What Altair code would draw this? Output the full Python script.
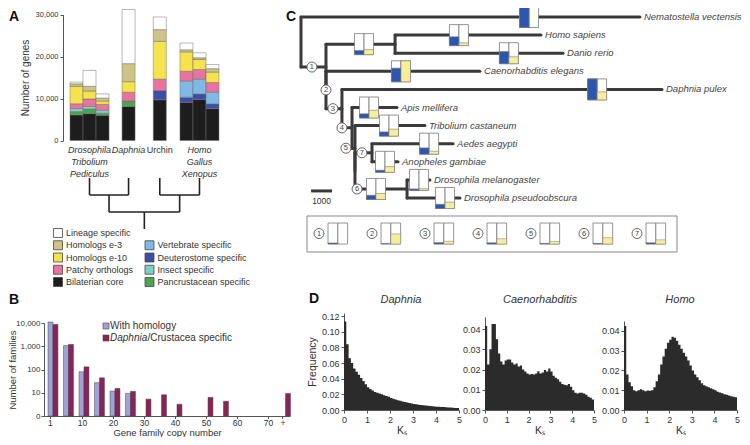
import altair as alt
import pandas as pd

OFF = 8              # page margin: chart pixel = page pixel - OFF
FONT = "Liberation Sans"
INK = "#333333"
W, H = 734, 429

# ---------------- Panel A : gene content per genome ----------------
A_species = ["Drosophila", "Tribolium", "Pediculus", "Daphnia", "Urchin", "Homo", "Gallus", "Xenopus"]
A_group = [0, 0, 0, 1, 2, 3, 3, 3]
A_slot = [0, 1, 2, 4, 6.4, 8.45, 9.45, 10.45]
A_italic = [True, True, True, True, False, True, True, True]

A_categories = ["Bilaterian core", "Pancrustacean specific", "Insect specific",
                "Deuterostome specific", "Vertebrate specific", "Patchy orthologs",
                "Homologs e-10", "Homologs e-3", "Lineage specific"]
A_colors = ["#1d1d1d", "#4ba64f", "#7fd0c6", "#3b4fa6", "#80b8e6", "#e9739f",
            "#f6e24c", "#cdc488", "#ffffff"]
A_bilaterian_core = [6100, 6400, 6000, 8100, 9700, 9100, 9800, 7600]
A_pancrustacean = [800, 1100, 500, 1300, 0, 0, 0, 0]
A_insect = [700, 600, 700, 0, 0, 0, 0, 0]
A_deuterostome = [0, 0, 0, 0, 2200, 1200, 1300, 1150]
A_vertebrate = [0, 0, 0, 0, 0, 3900, 3500, 2750]
A_patchy = [1150, 1800, 1400, 2100, 2700, 2300, 2300, 2300]
A_homologs_e10 = [4150, 1900, 800, 2500, 9000, 4600, 2400, 2500]
A_homologs_e3 = [600, 1100, 700, 4300, 2800, 500, 400, 800]
A_lineage = [400, 3800, 1000, 12900, 3000, 1600, 1200, 1000]
A_series = [A_bilaterian_core, A_pancrustacean, A_insect, A_deuterostome, A_vertebrate,
            A_patchy, A_homologs_e10, A_homologs_e3, A_lineage]

A_legend_labels = ["Lineage specific", "Homologs e-3", "Homologs e-10", "Patchy orthologs",
                   "Bilaterian core", "Vertebrate specific", "Deuterostome specific",
                   "Insect specific", "Pancrustacean specific"]
A_legend_col = [0, 0, 0, 0, 0, 1, 1, 1, 1]
A_legend_row = [0, 1, 2, 3, 4, 1, 2, 3, 4]

A_tree_pairs = [(0, 1), (2, 3)]   # ((insects, Daphnia), (urchin, vertebrates))

# ---------------- Panel B : gene family sizes ----------------
B_bins = list(range(16))
B_with_homology = [11000, 1070, 80, 27, 11.8, 9.4, None, None, None, None, None, None, None, None, None, None]
B_crustacea = [8700, 1200, 130, 44, 15.3, 11.5, 5.3, 8.2, 3.2, None, 6.3, 4.3, None, None, None, 9.3]
B_tick_pos = [-0.2, 1.87, 3.87, 5.87, 7.87, 9.87, 11.87, 13.87, 14.8]
B_tick_labels = ["1", "10", "20", "30", "40", "50", "60", "70", "+"]

# ---------------- Panel C : phylogeny ----------------
C_nodes = ["root", "Nematostella vectensis", "Bilateria", "Deuterostomia", "Homo sapiens",
           "Danio rerio", "Ecdysozoa", "Caenorhabditis elegans", "Arthropoda", "Daphnia pulex",
           "Insecta", "Apis mellifera", "Holometabola", "Tribolium castaneum", "Diptera",
           "Culicidae", "Aedes aegypti", "Anopheles gambiae", "Drosophilidae",
           "Drosophila melanogaster", "Drosophila pseudoobscura"]
C_parent = [None, "root", "root", "Bilateria", "Deuterostomia", "Deuterostomia", "Bilateria",
            "Ecdysozoa", "Ecdysozoa", "Arthropoda", "Arthropoda", "Insecta", "Insecta",
            "Holometabola", "Holometabola", "Diptera", "Culicidae", "Culicidae", "Diptera",
            "Drosophilidae", "Drosophilidae"]
C_depth = [0, 16.14, 1.19, 4.48, 11.43, 12.48, 1.19, 8.52, 1.95, 17.19, 2.43, 4.57, 2.57,
           5.9, 2.57, 3.38, 7.24, 4.62, 5.05, 6.14, 7.57]   # thousands of changes

C_glyph_node = ["Nematostella vectensis", "Deuterostomia", "Homo sapiens", "Danio rerio",
                "Caenorhabditis elegans", "Daphnia pulex", "Apis mellifera", "Tribolium castaneum",
                "Aedes aegypti", "Anopheles gambiae", "Drosophilidae", "Drosophila melanogaster",
                "Drosophila pseudoobscura"]
C_glyph_pos = [10.86, 3.0, 7.52, 9.9, 4.76, 14.1, 3.24, 4.19, 6.1, 4.0, 3.57, 5.62, 6.86]
C_glyph_blue = [1.0, 0.2, 0.42, 0.58, 0.65, 1.0, 0.2, 0.2, 0.3, 0.1, 0.2, 0.07, 0.2]
C_glyph_yellow = [0.0, 0.24, 0.13, 0.33, 1.0, 0.38, 0.37, 0.33, 0.14, 0.27, 0.28, 0.08, 0.3]

C_circle_num = ["1", "2", "3", "4", "5", "6", "7"]
C_circle_node = ["Bilateria", "Ecdysozoa", "Arthropoda", "Insecta", "Holometabola",
                 "Drosophilidae", "Culicidae"]
C_circle_pos = [0.52, 1.19, 1.52, 1.95, 2.14, 2.67, 2.9]

C_scalebar = [0.48, 1.48]   # 1000 changes
C_legend_blue = [0.05, 0.02, 0.07, 0.06, 0.03, 0.03, 0.06]
C_legend_yellow = [0.0, 0.48, 0.13, 0.25, 0.12, 0.3, 0.2]

# ---------------- Panel D : Ks distributions ----------------
D_daphnia = [0.113, 0.084, 0.066, 0.060, 0.053, 0.049, 0.045, 0.041, 0.037, 0.033,
             0.029, 0.027, 0.025, 0.023, 0.022, 0.021, 0.020, 0.019, 0.018, 0.017,
             0.0155, 0.0145, 0.0135, 0.0125, 0.0117, 0.0110, 0.0102, 0.0095, 0.0089, 0.0083,
             0.0077, 0.0072, 0.0068, 0.0064, 0.0060, 0.0056, 0.0053, 0.0050, 0.0047, 0.0045,
             0.0043, 0.0041, 0.0039, 0.0037, 0.0035, 0.0033, 0.0031, 0.0029, 0.0027, 0.0025]
D_caeno = [0.0415, 0.0225, 0.030, 0.0425, 0.0425, 0.035, 0.028, 0.024, 0.0225, 0.0245,
           0.025, 0.025, 0.0235, 0.0225, 0.023, 0.0215, 0.022, 0.020, 0.019, 0.018,
           0.0175, 0.0178, 0.0175, 0.018, 0.0192, 0.018, 0.0185, 0.0198, 0.019, 0.0205,
           0.019, 0.017, 0.016, 0.0152, 0.014, 0.0128, 0.0125, 0.0122, 0.0128, 0.0115,
           0.0098, 0.0085, 0.0082, 0.0085, 0.0085, 0.0082, 0.0075, 0.0065, 0.006, 0.0052]
D_homo = [0.0425, 0.018, 0.014, 0.012, 0.010, 0.0095, 0.010, 0.0105, 0.010, 0.0095,
          0.0098, 0.0097, 0.010, 0.0115, 0.0145, 0.018, 0.023, 0.027, 0.031, 0.034,
          0.0355, 0.037, 0.0365, 0.035, 0.033, 0.031, 0.029, 0.027, 0.025, 0.0225,
          0.020, 0.018, 0.0165, 0.015, 0.0135, 0.0125, 0.012, 0.0115, 0.011, 0.0105,
          0.010, 0.0092, 0.0088, 0.0085, 0.008, 0.0077, 0.0073, 0.007, 0.0067, 0.0065]
D_titles = ["Daphnia", "Caenorhabditis", "Homo"]

# =====================================================================
ONE = pd.DataFrame({"k": [0]})


def note(txt, x, y, size=10, style="normal", weight="normal", align="left", angle=0, color=INK):
    kw = dict(text=txt, fontSize=size, fontStyle=style, fontWeight=weight, align=align,
              baseline="middle", color=color, font=FONT)
    if angle:
        kw["angle"] = angle
    return alt.Chart(ONE).mark_text(**kw).encode(x=alt.value(x - OFF), y=alt.value(y - OFF))


def ax(orient, off_px, **kw):
    base = dict(orient=orient, offset=off_px, tickSize=3, labelPadding=2, domainWidth=1,
                tickWidth=1, labelFont=FONT, titleFont=FONT)
    base.update(kw)
    return alt.Axis(**base)


# ---- A bars ----
cat_color = dict(zip(A_categories, A_colors))
rows = []
for i, sp in enumerate(A_species):
    base = 0
    for cat, vals in zip(A_categories, A_series):
        v = vals[i]
        if v > 0:
            rows.append(dict(species=sp, cat=cat, color=cat_color[cat], x0=A_slot[i] - 0.5,
                             x1=A_slot[i] + 0.5, y0=base, y1=base + v))
        base += v
dfA = pd.DataFrame(rows)
xA = alt.Scale(domain=[-0.5, 10.95], range=[70 - OFF, 219 - OFF], nice=False, zero=False)
yA = alt.Scale(domain=[0, 30000], range=[140.5 - OFF, 14.5 - OFF], nice=False)
a_bars = alt.Chart(dfA).mark_rect(stroke="#707070", strokeWidth=0.5).encode(
    x=alt.X("x0:Q", scale=xA, axis=None), x2="x1:Q",
    y=alt.Y("y0:Q", scale=yA,
            axis=ax("left", -(63 - OFF), values=[0, 10000, 20000, 30000], format=",d",
                    title="Number of genes", labelFontSize=7.5, titleFontSize=10,
                    titlePadding=5)),
    y2="y1:Q",
    fill=alt.Fill("color:N", scale=None))

# ---- A species labels ----
centers = {}
for g in sorted(set(A_group)):
    s = [A_slot[i] for i in range(len(A_slot)) if A_group[i] == g]
    centers[g] = sum(s) / len(s)
lab_rows, seen = [], {}
for i, sp in enumerate(A_species):
    r = seen.get(A_group[i], 0)
    seen[A_group[i]] = r + 1
    lab_rows.append(dict(name=sp, x=centers[A_group[i]], row=r, it=A_italic[i]))
dfAl = pd.DataFrame(lab_rows)
yAl = alt.Scale(domain=[0, 2], range=[150 - OFF, 174 - OFF])
a_lab_base = alt.Chart(dfAl).encode(
    x=alt.X("x:Q", scale=xA, axis=None), y=alt.Y("row:Q", scale=yAl, axis=None), text="name:N")
a_labels = alt.layer(
    a_lab_base.transform_filter("datum.it").mark_text(fontSize=9, fontStyle="italic", color=INK, font=FONT),
    a_lab_base.transform_filter("!datum.it").mark_text(fontSize=9, color=INK, font=FONT))

# ---- A dendrogram ----
segs = []
mids = []
for a, b in A_tree_pairs:
    ca, cb = centers[a], centers[b]
    segs += [dict(x=ca, x2=ca, y=0, y2=1), dict(x=cb, x2=cb, y=0, y2=1), dict(x=ca, x2=cb, y=1, y2=1)]
    m = (ca + cb) / 2
    mids.append(m)
    segs.append(dict(x=m, x2=m, y=1, y2=2))
segs.append(dict(x=mids[0], x2=mids[1], y=2, y2=2))
r = sum(mids) / 2
segs.append(dict(x=r, x2=r, y=2, y2=3))
yAt = alt.Scale(domain=[0, 3], range=[178 - OFF, 229 - OFF])
a_tree = alt.Chart(pd.DataFrame(segs)).mark_rule(strokeWidth=1.6, color="#222222").encode(
    x=alt.X("x:Q", scale=xA, axis=None), x2="x2:Q",
    y=alt.Y("y:Q", scale=yAt, axis=None), y2="y2:Q")

# ---- A legend ----
dfLeg = pd.DataFrame(dict(label=A_legend_labels, col=A_legend_col, row=A_legend_row,
                          color=[cat_color[c] for c in A_legend_labels]))
xL = alt.Scale(domain=[0, 1], range=[58 - OFF, 149.5 - OFF])
yL = alt.Scale(domain=[0, 4], range=[233 - OFF, 282 - OFF])
leg_base = alt.Chart(dfLeg).encode(x=alt.X("col:Q", scale=xL, axis=None),
                                   y=alt.Y("row:Q", scale=yL, axis=None))
a_legend = alt.layer(
    leg_base.mark_square(size=80, stroke="#444444", strokeWidth=0.8, opacity=1).encode(
        fill=alt.Fill("color:N", scale=None)),
    leg_base.mark_text(align="left", dx=8, fontSize=9, color=INK, font=FONT).encode(text="label:N"))

# ---- B bars ----
rowsB = []
for i in B_bins:
    for side, (series, vals, col) in enumerate([("With homology", B_with_homology, "#a0a2da"),
                                                 ("Daphnia/Crustacea specific", B_crustacea, "#8a2356")]):
        v = vals[i]
        if v is None:
            continue
        x0 = i - 0.32 if side == 0 else i
        rowsB.append(dict(bin=i, series=series, value=v, base=1, x0=x0, x1=x0 + 0.32, color=col))
dfB = pd.DataFrame(rowsB)
xB = alt.Scale(domain=[-0.58, 15.29], range=[44 - OFF, 290 - OFF], nice=False, zero=False)
yB = alt.Scale(type="log", domain=[1, 10000], range=[416 - OFF, 323 - OFF], nice=False)
lab_expr = "[" + ",".join("'%s'" % s for s in B_tick_labels) + "][indexof([" + \
    ",".join(str(p) for p in B_tick_pos) + "], datum.value)]"
b_bars = alt.Chart(dfB).mark_rect(stroke="#444444", strokeWidth=0.5).encode(
    x=alt.X("x0:Q", scale=xB,
            axis=ax("bottom", (416 - OFF) - H, values=B_tick_pos, labelExpr=lab_expr,
                    title="Gene family copy number", labelFontSize=8.5, titleFontSize=9.5,
                    titlePadding=0, labelPadding=0, tickSize=2.5)),
    x2="x1:Q",
    y=alt.Y("value:Q", scale=yB,
            axis=ax("left", -(44 - OFF), values=[1, 10, 100, 1000, 10000],
                    labelExpr="datum.value == 1 ? '0' : format(datum.value, ',')",
                    title="Number of families", labelFontSize=8, titleFontSize=9.5,
                    labelPadding=1, titleX=-(44 - 17), titleY=369.5 - OFF)),
    y2="base:Q",
    fill=alt.Fill("color:N", scale=None))

b_legend = alt.layer(
    alt.Chart(ONE).mark_square(size=36, fill="#a0a2da", stroke="#444444", strokeWidth=0.6, opacity=1).encode(
        x=alt.value(106 - OFF), y=alt.value(326 - OFF)),
    alt.Chart(ONE).mark_square(size=36, fill="#8a2356", stroke="#444444", strokeWidth=0.6, opacity=1).encode(
        x=alt.value(106 - OFF), y=alt.value(338 - OFF)),
    note("With homology", 110, 326, size=10),
    note("Daphnia", 110, 338, size=10, style="italic"),
    note("/Crustacea specific", 147.5, 338, size=10))

# ---- C tree ----
children = {n: [] for n in C_nodes}
for n, p in zip(C_nodes, C_parent):
    if p:
        children[p].append(n)
ypos, k = {}, 0
for n in C_nodes:
    if not children[n]:
        ypos[n] = k
        k += 1


def gety(n):
    if n not in ypos:
        ys = [gety(c) for c in children[n]]
        ypos[n] = sum(ys) / len(ys)
    return ypos[n]


gety("root")
xpos = dict(zip(C_nodes, C_depth))
segC = []
for n, p in zip(C_nodes, C_parent):
    if p and xpos[p] != xpos[n]:
        segC.append(dict(x=xpos[p], x2=xpos[n], y=ypos[n], y2=ypos[n]))
for n in C_nodes:
    if children[n]:
        ys = [ypos[c] for c in children[n]]
        segC.append(dict(x=xpos[n], x2=xpos[n], y=min(ys), y2=max(ys)))
PXU_X, PXU_Y = 21.0, 18.1
xC = alt.Scale(domain=[0, 17], range=[301 - OFF, 301 + 17 * PXU_X - OFF], nice=False, zero=False)
yC = alt.Scale(domain=[0, 10], range=[17 - OFF, 17 + 10 * PXU_Y - OFF], nice=False, zero=False)


def cx(f):
    return alt.X(f, scale=xC, axis=None)


def cy(f):
    return alt.Y(f, scale=yC, axis=None)


c_lines = alt.Chart(pd.DataFrame(segC)).mark_rule(strokeWidth=3, color="#3a3a3a", strokeCap="round").encode(
    x=cx("x:Q"), x2="x2:Q", y=cy("y:Q"), y2="y2:Q")

gw, gh = 9.5 / PXU_X, 10.5 / PXU_Y
boxes, fills = [], []
for node, pos, b, yv in zip(C_glyph_node, C_glyph_pos, C_glyph_blue, C_glyph_yellow):
    yy = ypos[node]
    boxes.append(dict(x0=pos - gw, x1=pos, y0=yy - gh, y1=yy + gh))
    boxes.append(dict(x0=pos, x1=pos + gw, y0=yy - gh, y1=yy + gh))
    if b > 0:
        fills.append(dict(x0=pos - gw, x1=pos, y0=yy + gh - 2 * gh * b, y1=yy + gh, color="#2d56ad"))
    if yv > 0:
        fills.append(dict(x0=pos, x1=pos + gw, y0=yy + gh - 2 * gh * yv, y1=yy + gh, color="#f7ee9c"))
c_boxes = alt.Chart(pd.DataFrame(boxes)).mark_rect(fill="white", stroke="#7a7a7a", strokeWidth=0.8).encode(
    x=cx("x0:Q"), x2="x1:Q", y=cy("y0:Q"), y2="y1:Q")
c_fills = alt.Chart(pd.DataFrame(fills)).mark_rect(stroke="#7a7a7a", strokeWidth=0.6).encode(
    x=cx("x0:Q"), x2="x1:Q", y=cy("y0:Q"), y2="y1:Q", fill=alt.Fill("color:N", scale=None))

dfCirc = pd.DataFrame(dict(num=C_circle_num, x=C_circle_pos, y=[ypos[n] for n in C_circle_node]))
c_circles = alt.Chart(dfCirc).mark_point(shape="circle", size=100, filled=True, fill="white",
                                         stroke="#555555", strokeWidth=0.9, opacity=1).encode(
    x=cx("x:Q"), y=cy("y:Q"))
c_nums = alt.Chart(dfCirc).mark_text(fontSize=7.5, color="#444444", font=FONT).encode(
    x=cx("x:Q"), y=cy("y:Q"), text="num:N")

leaves = [n for n in C_nodes if not children[n]]
dfLeaf = pd.DataFrame(dict(name=leaves, x=[xpos[n] for n in leaves], y=[ypos[n] for n in leaves]))
c_leaf = alt.Chart(dfLeaf).mark_text(align="left", dx=4, fontSize=9.5, fontStyle="italic",
                                     color="#444444", font=FONT).encode(
    x=cx("x:Q"), y=cy("y:Q"), text="name:N")

dfSB = pd.DataFrame(dict(x=[C_scalebar[0]], x2=[C_scalebar[1]], y=[9.61],
                         mid=[(C_scalebar[0] + C_scalebar[1]) / 2], ty=[10.15], t=["1000"]))
c_sb = alt.layer(
    alt.Chart(dfSB).mark_rule(strokeWidth=3, color="#3a3a3a").encode(x=cx("x:Q"), x2="x2:Q", y=cy("y:Q")),
    alt.Chart(dfSB).mark_text(fontSize=8.5, color=INK, font=FONT).encode(x=cx("mid:Q"), y=cy("ty:Q"), text="t:N"))

c_tree = alt.layer(c_lines, c_boxes, c_fills, c_circles, c_nums, c_leaf, c_sb)

# ---- C legend box ----
xCL = alt.Scale(domain=[0, 6], range=[319 - OFF, 637 - OFF], nice=False, zero=False)
yCL = alt.Scale(domain=[0, 1], range=[244 - OFF, 223 - OFF], nice=False, zero=False)
lb, lf = [], []
for i, (b, yv) in enumerate(zip(C_legend_blue, C_legend_yellow)):
    lb.append(dict(x0=i + 0.17, x1=i + 0.355, y0=0, y1=1))
    lb.append(dict(x0=i + 0.355, x1=i + 0.54, y0=0, y1=1))
    if b > 0:
        lf.append(dict(x0=i + 0.17, x1=i + 0.355, y0=0, y1=b, color="#2d56ad"))
    if yv > 0:
        lf.append(dict(x0=i + 0.355, x1=i + 0.54, y0=0, y1=yv, color="#f7ee9c"))
dfLC = pd.DataFrame(dict(num=C_circle_num, x=list(range(7)), y=[0.5] * 7))
c_leg = alt.layer(
    alt.Chart(ONE).mark_rect(fill="white", stroke="#888888", strokeWidth=1).encode(
        x=alt.value(307 - OFF), x2=alt.value(677 - OFF), y=alt.value(216 - OFF), y2=alt.value(252 - OFF)),
    alt.Chart(pd.DataFrame(lb)).mark_rect(fill="white", stroke="#7a7a7a", strokeWidth=0.8).encode(
        x=alt.X("x0:Q", scale=xCL, axis=None), x2="x1:Q",
        y=alt.Y("y0:Q", scale=yCL, axis=None), y2="y1:Q"),
    alt.Chart(pd.DataFrame(lf)).mark_rect(stroke="#7a7a7a", strokeWidth=0.5).encode(
        x=alt.X("x0:Q", scale=xCL, axis=None), x2="x1:Q",
        y=alt.Y("y0:Q", scale=yCL, axis=None), y2="y1:Q", fill=alt.Fill("color:N", scale=None)),
    alt.Chart(dfLC).mark_point(shape="circle", size=100, filled=True, fill="white",
                               stroke="#555555", strokeWidth=0.9, opacity=1).encode(
        x=alt.X("x:Q", scale=xCL, axis=None), y=alt.Y("y:Q", scale=yCL, axis=None)),
    alt.Chart(dfLC).mark_text(fontSize=7.5, color="#444444", font=FONT).encode(
        x=alt.X("x:Q", scale=xCL, axis=None), y=alt.Y("y:Q", scale=yCL, axis=None), text="num:N"))


# ---- D histograms (step areas, one polygon each) ----
BIN = 0.1


def hist(vals, xr, ymax, yticks, first):
    ks = [i * BIN for i in range(len(vals))] + [len(vals) * BIN]
    fr = list(vals) + [vals[-1]]
    df = pd.DataFrame(dict(ks=ks, freq=fr))
    xs = alt.Scale(domain=[0, 5], range=[xr[0] - OFF, xr[1] - OFF], nice=False, zero=False)
    ys = alt.Scale(domain=[0, ymax], range=[410 - OFF, xr[2] - OFF], nice=False)
    yk = dict(values=yticks, format=".2f", labelFontSize=9, titleFontSize=10.5, titlePadding=4)
    yk["title"] = "Frequency" if first else ""
    return alt.Chart(df).mark_area(interpolate="step-after", color="#2b2b2b", opacity=1).encode(
        x=alt.X("ks:Q", scale=xs,
                axis=ax("bottom", (410 - OFF) - H, values=[0, 1, 2, 3, 4, 5], format="d",
                        title="K\u209b", labelFontSize=9, titleFontSize=10.5, titlePadding=1)),
        y=alt.Y("freq:Q", scale=ys, axis=ax("left", -(xr[0] - OFF), **yk)))


d1 = hist(D_daphnia, (344, 459, 313), 0.124, [0, 0.02, 0.04, 0.06, 0.08, 0.10, 0.12], True)
d2 = hist(D_caeno, (485, 594, 317), 0.046, [0, 0.01, 0.02, 0.03, 0.04], False)
d3 = hist(D_homo, (624, 737, 321), 0.045, [0, 0.01, 0.02, 0.03, 0.04], False)

notes = alt.layer(
    note("A", 9, 17, size=14, weight="bold", color="#111111"),
    note("B", 9, 300, size=14, weight="bold", color="#111111"),
    note("C", 286, 17, size=14, weight="bold", color="#111111"),
    note("D", 309, 299, size=14, weight="bold", color="#111111"),
    note(D_titles[0], 401, 300, size=11, style="italic", align="center"),
    note(D_titles[1], 540, 300, size=11, style="italic", align="center"),
    note(D_titles[2], 680, 300, size=11, style="italic", align="center"))

chart = alt.layer(
    a_bars, a_labels, a_tree, a_legend, b_bars, b_legend, c_leg, c_tree, d1, d2, d3, notes
).resolve_scale(x="independent", y="independent").properties(
    width=W, height=H, padding=0, autosize=alt.AutoSizeParams(type="none")
).configure_view(stroke=None).configure_axis(
    grid=False, labelColor=INK, titleColor=INK, domainColor="#555555", tickColor="#555555",
    titleFontWeight="normal", labelFlush=False, labelOverlap=False
).configure_text(font=FONT)

chart.save("out.html", embed_options={"renderer": "svg", "actions": False})
